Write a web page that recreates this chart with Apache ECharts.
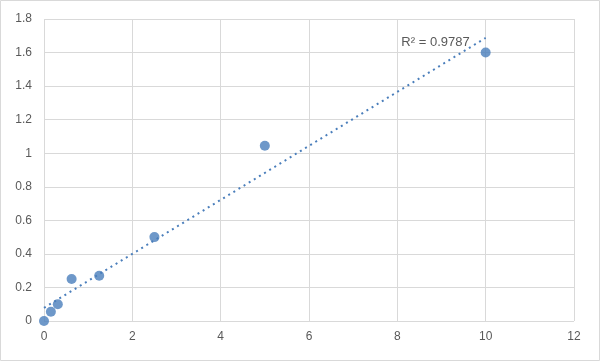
<!DOCTYPE html>
<html><head><meta charset="utf-8">
<script src="https://cdn.jsdelivr.net/npm/echarts@6/dist/echarts.min.js"></script>
<style>html,body{margin:0;padding:0;background:#fff}#c{width:600px;height:361px}</style>
</head><body><div id="c"></div>
<script>
const xValues = [0, 0.156, 0.3125, 0.625, 1.25, 2.5, 5, 10];
const yValues = [0, 0.055, 0.1, 0.25, 0.27, 0.5, 1.045, 1.6];
const r2Label = 'R² = 0.9787';

// linear least-squares trendline computed from the data
const n = xValues.length;
const mx = xValues.reduce((a, b) => a + b, 0) / n;
const my = yValues.reduce((a, b) => a + b, 0) / n;
let sxy = 0, sxx = 0;
for (let i = 0; i < n; i++) { sxy += (xValues[i] - mx) * (yValues[i] - my); sxx += (xValues[i] - mx) ** 2; }
const slope = sxy / sxx, intercept = my - slope * mx;
const xMin = Math.min(...xValues), xMax = Math.max(...xValues);
const trend = [[xMin, intercept + slope * xMin], [xMax, intercept + slope * xMax]];

const chart = echarts.init(document.getElementById('c'));
const color = '#4a7ebb';
const font = 'Liberation Sans, Arial, sans-serif';
chart.setOption({
  animation: false,
  graphic: [{ type: 'rect', shape: { x: 0.5, y: 0.5, width: 599, height: 360 }, style: { fill: 'none', stroke: '#d9d9d9', lineWidth: 1 }, silent: true }],
  grid: { left: 44, right: 26, top: 19, bottom: 40 },
  xAxis: {
    type: 'value', min: 0, max: 12, interval: 2,
    axisLine: { show: false }, axisTick: { show: false },
    axisLabel: { color: '#595959', fontSize: 12, fontFamily: font, margin: 10 },
    splitLine: { lineStyle: { color: '#d9d9d9', width: 1 } }
  },
  yAxis: {
    type: 'value', min: 0, max: 1.8, interval: 0.2,
    axisLine: { show: false }, axisTick: { show: false },
    axisLabel: { color: '#595959', fontSize: 12, fontFamily: font, margin: 12 },
    splitLine: { lineStyle: { color: '#d9d9d9', width: 1 } }
  },
  series: [
    {
      type: 'line', data: trend, symbol: 'none', silent: true,
      lineStyle: { color: color, width: 2, type: [2, 4] },
      markPoint: {
        symbol: 'circle', symbolSize: 0,
        data: [{ coord: trend[1], label: { show: true, formatter: r2Label, position: 'left', distance: 16, offset: [0, 5], color: '#595959', fontSize: 13, fontFamily: font } }]
      }
    },
    {
      type: 'scatter', data: xValues.map((x, i) => [x, yValues[i]]),
      symbol: 'circle', symbolSize: 10, itemStyle: { color: color }
    }
  ]
});
</script></body></html>
